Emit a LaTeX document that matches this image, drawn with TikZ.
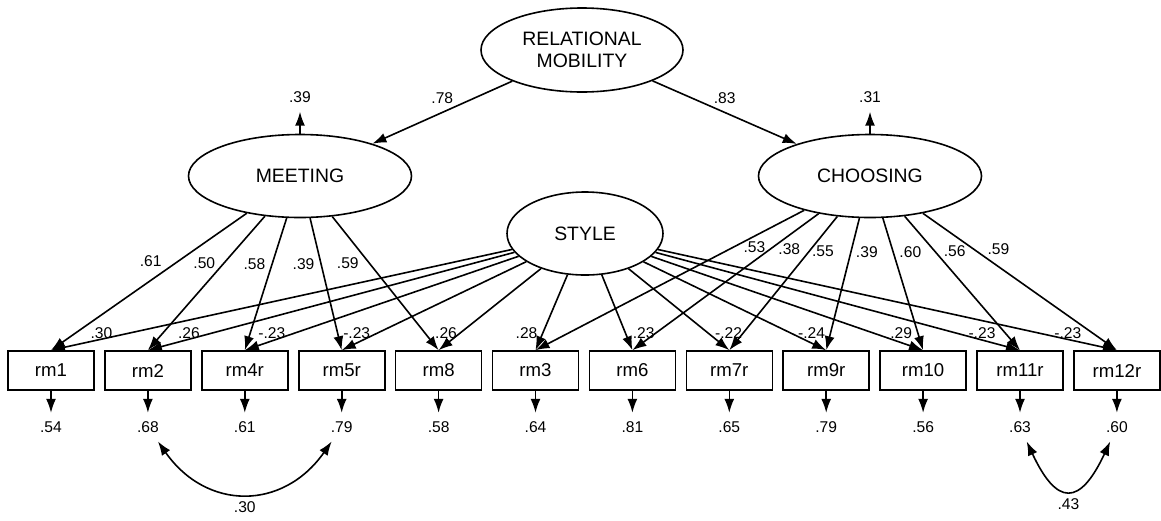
\documentclass[tikz,border=0pt]{standalone}
\usepackage{fontspec}
\setmainfont{Liberation Sans}
\usetikzlibrary{arrows.meta,shapes.geometric,chains,positioning}

\begin{document}
\begin{tikzpicture}[ auto, thick, x=0.5pt, y=-0.5pt,
  latent/.style={ellipse, draw, inner sep=0pt, minimum width=111.5pt, minimum height=41.5pt,
    font=\fontsize{9.7}{11}\selectfont, align=center},
  obs/.style={rectangle, draw, minimum width=43pt, minimum height=19.5pt,
    font=\fontsize{9.3}{11}\selectfont},
  num/.style={font=\fontsize{7.8}{9}\selectfont, inner sep=1pt},
  errnum/.style={num, inner sep=4pt},
  line/.style={draw, -{Latex[length=7pt,width=5pt]}},
  cov/.style={draw, {Latex[length=7pt,width=5pt]}-{Latex[length=7pt,width=5pt]}},
  ]
  \useasboundingbox (0,0) rectangle (1161,520);

  % latent factors
  \node (relmob) [latent, minimum width=101pt, minimum height=42pt] at (582,50) {RELATIONAL\\MOBILITY};
  \node (meet) [latent] at (300,176) {MEETING};
  \node (choose) [latent] at (870,176) {CHOOSING};
  \node (style) [latent, minimum width=78pt] at (585,233.5) {STYLE};
  \node (dmeet) [errnum, above=11pt of meet] {.39};
  \node (dchoose) [errnum, above=11pt of choose] {.31};

  % items
  \begin{scope}[start chain=items going right, node distance=4.65pt]
    \node (rm1) [obs, on chain] at (51,370.5) {rm1};
    \node (rm2) [obs, on chain] {rm2};
    \node (rm4r) [obs, on chain] {rm4r};
    \node (rm5r) [obs, on chain] {rm5r};
    \node (rm8) [obs, on chain] {rm8};
    \node (rm3) [obs, on chain] {rm3};
    \node (rm6) [obs, on chain] {rm6};
    \node (rm7r) [obs, on chain] {rm7r};
    \node (rm9r) [obs, on chain] {rm9r};
    \node (rm10) [obs, on chain] {rm10};
    \node (rm11r) [obs, on chain] {rm11r};
    \node (rm12r) [obs, on chain] {rm12r};
  \end{scope}

  % error variances
  \node (e1) [errnum, below=11pt of rm1] {.54};
  \node (e2) [errnum, below=11pt of rm2] {.68};
  \node (e4) [errnum, below=11pt of rm4r] {.61};
  \node (e5) [errnum, below=11pt of rm5r] {.79};
  \node (e8) [errnum, below=11pt of rm8] {.58};
  \node (e3) [errnum, below=11pt of rm3] {.64};
  \node (e6) [errnum, below=11pt of rm6] {.81};
  \node (e7) [errnum, below=11pt of rm7r] {.65};
  \node (e9) [errnum, below=11pt of rm9r] {.79};
  \node (e10) [errnum, below=11pt of rm10] {.56};
  \node (e11) [errnum, below=11pt of rm11r] {.63};
  \node (e12) [errnum, below=11pt of rm12r] {.60};

  % second order
  \path[line] (relmob) -- node[num, above=3pt] {.78} (meet);
  \path[line] (relmob) -- node[num, above=3pt] {.83} (choose);
  \path[line] (meet) -- (dmeet);
  \path[line] (choose) -- (dchoose);

  % meeting loadings
  \path[line] (meet) -- node[num, pos=.35, left=7pt] {.61} (rm1.north);
  \path[line] (meet) -- node[num, pos=.35, left=3pt] {.50} (rm2.north);
  \path[line] (meet) -- node[num, pos=.35, left=2pt] {.58} (rm4r.north);
  \path[line] (meet) -- node[num, pos=.35, left=2pt] {.39} (rm5r.north);
  \path[line] (meet) -- node[num, pos=.35, left=4pt] {.59} (rm8.north);

  % choosing loadings
  \path[line] (choose) -- node[num, pos=.26, right=3.2pt] {.53} (rm3.north);
  \path[line] (choose) -- node[num, pos=.26, right=2.7pt] {.38} (rm6.north);
  \path[line] (choose) -- node[num, pos=.26, right=0pt] {.55} (rm7r.north);
  \path[line] (choose) -- node[num, pos=.26, right=1.2pt] {.39} (rm9r.north);
  \path[line] (choose) -- node[num, pos=.26, right=1.7pt] {.60} (rm10.north);
  \path[line] (choose) -- node[num, pos=.26, right=3.2pt] {.56} (rm11r.north);
  \path[line] (choose) -- node[num, pos=.26, right=5.7pt] {.59} (rm12r.north);

  % method factor
  \path[line] (style) -- node[num, pos=.832, left=6.7pt] {.30} (rm1.north);
  \path[line] (style) -- node[num, pos=.828, left=4.2pt] {.26} (rm2.north);
  \path[line] (style) -- node[num, pos=.821, left=2.9pt] {-.23} (rm4r.north);
  \path[line] (style) -- node[num, pos=.81, left=1.9pt] {-.23} (rm5r.north);
  \path[line] (style) -- node[num, pos=.794, left=0pt] {.26} (rm8.north);
  \path[line] (style) -- node[num, pos=.779, left=1.2pt] {.28} (rm3.north);
  \path[line] (style) -- node[num, pos=.778, right=2.2pt] {.23} (rm6.north);
  \path[line] (style) -- node[num, pos=.794, right=1.9pt] {-.22} (rm7r.north);
  \path[line] (style) -- node[num, pos=.81, right=1.9pt] {-.24} (rm9r.north);
  \path[line] (style) -- node[num, pos=.82, right=6.7pt] {.29} (rm10.north);
  \path[line] (style) -- node[num, pos=.827, right=4.4pt] {-.23} (rm11r.north);
  \path[line] (style) -- node[num, pos=.832, right=5.9pt] {-.23} (rm12r.north);

  % residuals
  \path[line] (rm1) -- (e1);
  \path[line] (rm2) -- (e2);
  \path[line] (rm4r) -- (e4);
  \path[line] (rm5r) -- (e5);
  \path[line] (rm8) -- (e8);
  \path[line] (rm3) -- (e3);
  \path[line] (rm6) -- (e6);
  \path[line] (rm7r) -- (e7);
  \path[line] (rm9r) -- (e9);
  \path[line] (rm10) -- (e10);
  \path[line] (rm11r) -- (e11);
  \path[line] (rm12r) -- (e12);

  % correlated errors
  \path[cov] (e2) to[out=-55, in=-125, looseness=1.25] node[num, below=2.8pt] {.30} (e5);
  \path[cov] (e11) to[out=-65, in=-115, looseness=2.2] node[num, below=2.8pt] {.43} (e12);
\end{tikzpicture}
\end{document}
